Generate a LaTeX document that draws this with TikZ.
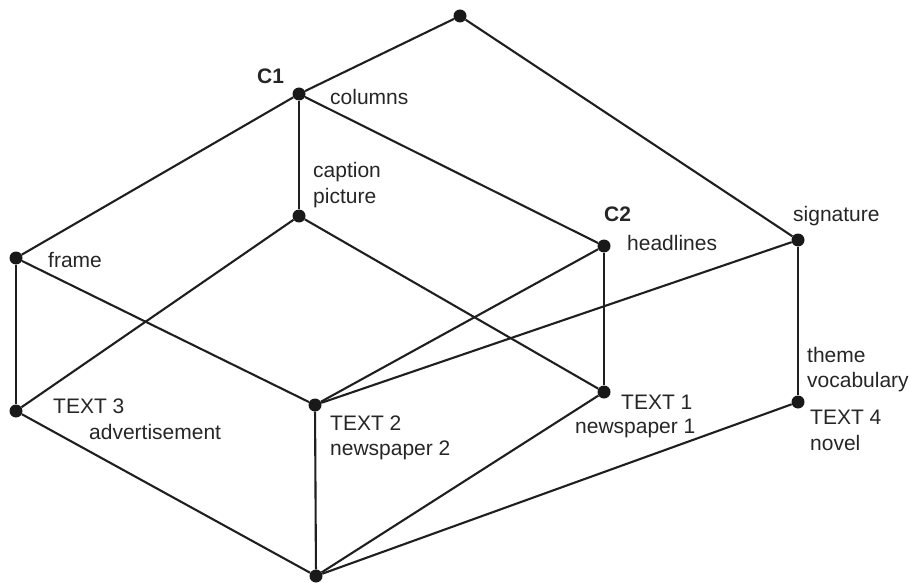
\documentclass[tikz,border=0pt]{standalone}
\usepackage{fontspec}
\setmainfont{Liberation Sans}
\begin{document}
\begin{tikzpicture}[x=1pt,y=-1pt,
  vtx/.style={circle,fill=black!90,inner sep=0pt,minimum size=13pt},
  edge/.style={line width=2.1pt,draw=black!88},
  lbl/.style={inner sep=0pt,anchor=west,font=\fontsize{21}{27}\selectfont,text=black!85,align=left},
  blbl/.style={inner sep=0pt,anchor=west,font=\fontsize{21}{27}\selectfont\bfseries,text=black!85}]
\useasboundingbox (0,0) rectangle (911,583);
\node[vtx] (top) at (460,16) {};
\node[vtx] (c1) at (299,94) {};
\node[vtx] (cap) at (299,216) {};
\node[vtx] (frame) at (16,258) {};
\node[vtx] (t3) at (16,411) {};
\node[vtx] (t2) at (315,405) {};
\node[vtx] (c2) at (604,246) {};
\node[vtx] (t1) at (604,392) {};
\node[vtx] (sig) at (798,240) {};
\node[vtx] (t4) at (798,402) {};
\node[vtx] (bot) at (316,576) {};
\begin{scope}[edge]
\draw (top) -- (c1);
\draw (top) -- (sig);
\draw (c1) -- (frame);
\draw (c1) -- (cap);
\draw (c1) -- (c2);
\draw (cap) -- (t3);
\draw (cap) -- (t1);
\draw (frame) -- (t3);
\draw (frame) -- (t2);
\draw (c2) -- (t2);
\draw (c2) -- (t1);
\draw (sig) -- (t2);
\draw (sig) -- (t4);
\draw (t3) -- (bot);
\draw (t2) -- (bot);
\draw (t1) -- (bot);
\draw (t4) -- (bot);
\end{scope}
\node[blbl] (lc1) at (257,76) {C1};
\node[lbl] (lcol) at (330,97) {columns};
\node[lbl] (lcap) at (313,172) {caption};
\node[lbl] (lpic) at (313,198) {picture};
\node[lbl] (lfr) at (48,260) {frame};
\node[blbl] (lc2) at (604,214) {C2};
\node[lbl] (lhead) at (627,243) {headlines};
\node[lbl] (lsig) at (793,216) {signature};
\node[lbl] (lth) at (807,355) {theme};
\node[lbl] (lvoc) at (807,382) {vocabulary};
\node[lbl] (lt4) at (810,417) {TEXT 4};
\node[lbl] (lnov) at (810,443) {novel};
\node[lbl] (lt1) at (621,402) {TEXT 1};
\node[lbl] (lnp1) at (575,428) {newspaper 1};
\node[lbl] (lt2) at (330,423) {TEXT 2};
\node[lbl] (lnp2) at (330,450) {newspaper 2};
\node[lbl] (lt3) at (53,406) {TEXT 3};
\node[lbl] (lad) at (89,432) {advertisement};
\end{tikzpicture}
\end{document}
